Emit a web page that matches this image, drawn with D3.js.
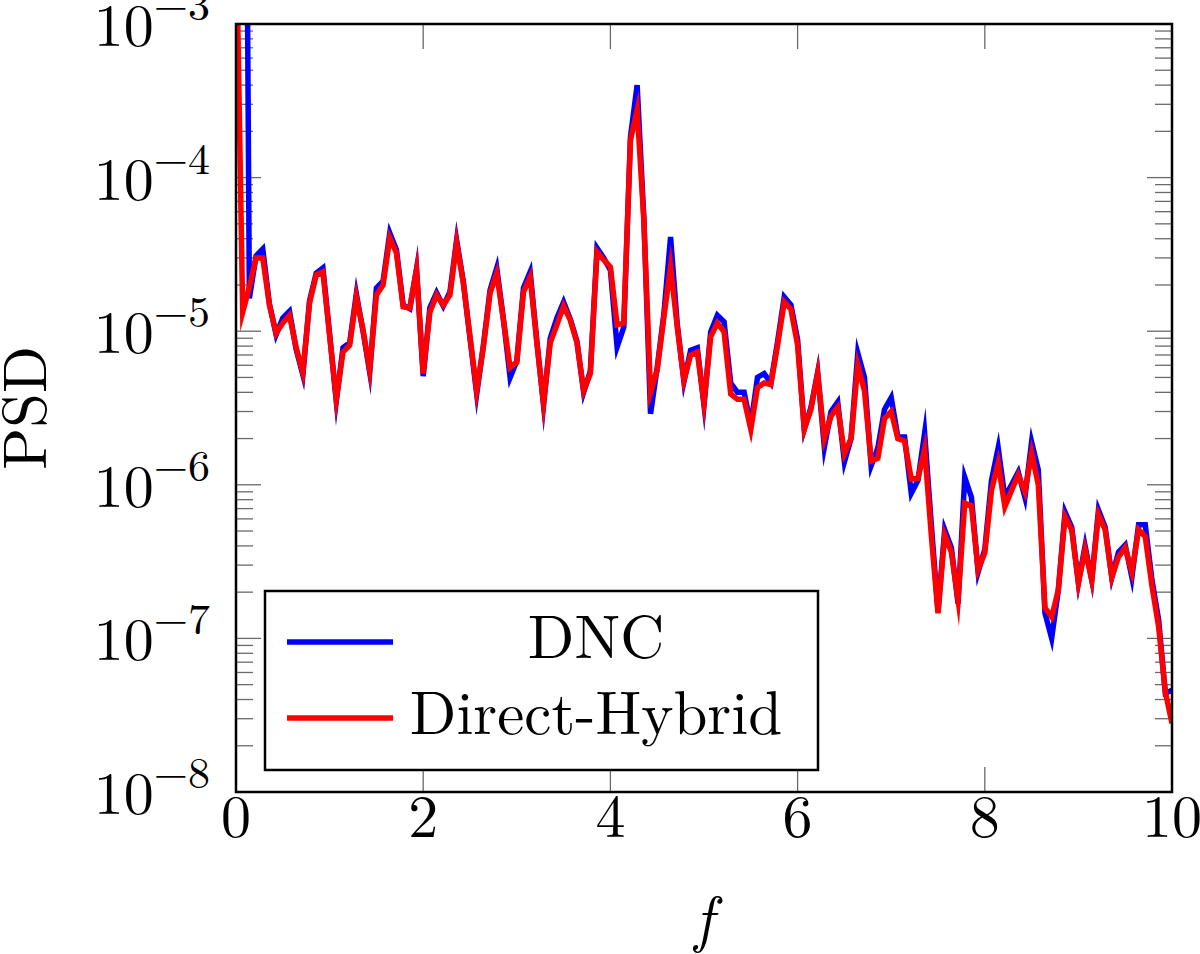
<!DOCTYPE html>
<html>
<head>
<meta charset="utf-8">
<script src="https://cdn.jsdelivr.net/npm/d3@7"></script>
<style>
  body { margin: 0; background: #fff; }
  text { font-family: "Latin Modern Roman", "CMU Serif", "Liberation Serif", serif; fill: #000; }
</style>
</head>
<body>
<div id="chart"></div>
<script>
// frequency grid step (141 samples between 0 and 10)
var freqStep = 10 / 140;

// PSD of DNC run
var dncPSD = [
  1e2, 1e2, 1.64e-5, 3.09e-5, 3.43e-5, 1.5e-5, 9.5e-6, 1.22e-5, 1.35e-5, 7.6e-6,
  5.2e-6, 1.58e-5, 2.39e-5, 2.58e-5, 9.6e-6, 3.5e-6, 7.8e-6, 8.4e-6, 1.75e-5, 1.0e-5,
  5.4e-6, 1.91e-5, 2.12e-5, 4.36e-5, 3.38e-5, 1.48e-5, 1.4e-5, 2.55e-5, 5.1e-6, 1.42e-5,
  1.78e-5, 1.46e-5, 1.8e-5, 3.92e-5, 2.1e-5, 9.0e-6, 3.9e-6, 8.1e-6, 1.85e-5, 2.58e-5,
  1.2e-5, 5.0e-6, 6.4e-6, 1.91e-5, 2.43e-5, 8.6e-6, 3.3e-6, 9.0e-6, 1.22e-5, 1.55e-5,
  1.2e-5, 8.6e-6, 4.0e-6, 5.5e-6, 3.48e-5, 3.0e-5, 2.5e-5, 7.9e-6, 1.06e-5, 1.84e-4,
  4.0e-4, 5.46e-5, 2.9e-6, 5.8e-6, 1.3e-5, 4.1e-5, 1.11e-5, 4.7e-6, 7.5e-6, 7.8e-6,
  3.3e-6, 9.9e-6, 1.27e-5, 1.15e-5, 4.6e-6, 4.0e-6, 4.0e-6, 2.45e-6, 5.0e-6, 5.3e-6,
  4.6e-6, 8.5e-6, 1.67e-5, 1.48e-5, 8.8e-6, 2.3e-6, 3.2e-6, 5.4e-6, 1.76e-6, 3.0e-6,
  3.46e-6, 1.41e-6, 2.0e-6, 7.2e-6, 5.0e-6, 1.33e-6, 1.74e-6, 3.1e-6, 3.7e-6, 2.05e-6,
  2.05e-6, 8.8e-7, 1.07e-6, 2.17e-6, 5.5e-7, 1.5e-7, 5.1e-7, 3.9e-7, 1.68e-7, 1.12e-6,
  8.3e-7, 2.7e-7, 3.8e-7, 1.07e-6, 1.74e-6, 8.3e-7, 1.0e-6, 1.21e-6, 8.3e-7, 1.9e-6,
  1.25e-6, 1.46e-7, 1.0e-7, 2.07e-7, 6.65e-7, 5.3e-7, 2.3e-7, 4.0e-7, 2.4e-7, 6.85e-7,
  5.3e-7, 2.5e-7, 3.65e-7, 4.06e-7, 2.5e-7, 5.5e-7, 5.5e-7, 2.4e-7, 1.32e-7, 4.4e-8,
  4.6e-8
];

// PSD of Direct-Hybrid run
var hybridPSD = [
  5e-3, 1.33e-5, 1.94e-5, 3.0e-5, 3.0e-5, 1.48e-5, 9.7e-6, 1.13e-5, 1.27e-5, 7.8e-6,
  5.4e-6, 1.53e-5, 2.32e-5, 2.43e-5, 9.4e-6, 3.6e-6, 7.3e-6, 8.1e-6, 1.67e-5, 1.02e-5,
  5.6e-6, 1.72e-5, 2.0e-5, 4.05e-5, 3.23e-5, 1.44e-5, 1.42e-5, 2.5e-5, 5.3e-6, 1.33e-5,
  1.72e-5, 1.48e-5, 1.72e-5, 3.75e-5, 2.06e-5, 9.2e-6, 4.1e-6, 7.9e-6, 1.77e-5, 2.39e-5,
  1.18e-5, 5.8e-6, 6.3e-6, 1.8e-5, 2.25e-5, 8.4e-6, 3.4e-6, 8.4e-6, 1.1e-5, 1.46e-5,
  1.18e-5, 8.4e-6, 4.1e-6, 5.3e-6, 3.28e-5, 2.91e-5, 2.62e-5, 1.1e-5, 1.13e-5, 1.76e-4,
  2.75e-4, 5.3e-5, 4.0e-6, 5.6e-6, 1.24e-5, 2.62e-5, 1.06e-5, 4.8e-6, 7.0e-6, 7.3e-6,
  3.4e-6, 9.2e-6, 1.13e-5, 9.9e-6, 3.9e-6, 3.6e-6, 3.6e-6, 2.3e-6, 4.3e-6, 4.6e-6,
  4.5e-6, 8.1e-6, 1.55e-5, 1.39e-5, 8.1e-6, 2.3e-6, 3.1e-6, 5.3e-6, 2.0e-6, 2.8e-6,
  3.2e-6, 1.6e-6, 2.0e-6, 6.0e-6, 4.1e-6, 1.43e-6, 1.49e-6, 2.7e-6, 3.0e-6, 2.0e-6,
  1.93e-6, 1.09e-6, 1.1e-6, 1.7e-6, 4.7e-7, 1.46e-7, 4.7e-7, 3.65e-7, 1.78e-7, 7.6e-7,
  7.3e-7, 2.8e-7, 3.6e-7, 9.2e-7, 1.39e-6, 7.2e-7, 9.2e-7, 1.16e-6, 9.0e-7, 1.61e-6,
  1.0e-6, 1.58e-7, 1.38e-7, 2.07e-7, 6.2e-7, 5.1e-7, 2.3e-7, 3.8e-7, 2.4e-7, 6.4e-7,
  5.1e-7, 2.5e-7, 3.4e-7, 3.9e-7, 2.7e-7, 5.1e-7, 4.6e-7, 2.2e-7, 1.19e-7, 4.5e-8,
  2.8e-8
];

var xTicks = [0, 2, 4, 6, 8, 10];
var yDecades = [1e-8, 1e-7, 1e-6, 1e-5, 1e-4, 1e-3];
var yTickExps = ["−8", "−7", "−6", "−5", "−4", "−3"];
var seriesNames = ["DNC", "Direct-Hybrid"];
var seriesColors = ["#0000ff", "#ff0000"];

var width = 1200, height = 954;
var plot = {left: 236, right: 1172, top: 24, bottom: 792};

var svg = d3.select("#chart")
  .append("svg")
    .attr("width", width)
    .attr("height", height);

var x = d3.scaleLinear().domain([0, 10]).range([plot.left, plot.right]);
var y = d3.scaleLog().domain([1e-8, 1e-3]).range([plot.bottom, plot.top]);

svg.append("clipPath").attr("id", "clip")
  .append("rect")
    .attr("x", plot.left).attr("y", plot.top)
    .attr("width", plot.right - plot.left).attr("height", plot.bottom - plot.top);

// ticks (inside, both sides)
var majorLen = 25, minorLen = 17;
var ticksG = svg.append("g").attr("stroke", "#6a6a6a").attr("stroke-width", 1.3);

var allY = y.ticks();
allY.forEach(function(v) {
  var isMajor = Math.abs(Math.log10(v) - Math.round(Math.log10(v))) < 1e-9;
  var len = isMajor ? majorLen : minorLen;
  ticksG.append("line").attr("x1", plot.left).attr("x2", plot.left + len)
    .attr("y1", y(v)).attr("y2", y(v));
  ticksG.append("line").attr("x1", plot.right).attr("x2", plot.right - len)
    .attr("y1", y(v)).attr("y2", y(v));
});
xTicks.forEach(function(v) {
  ticksG.append("line").attr("x1", x(v)).attr("x2", x(v))
    .attr("y1", plot.bottom).attr("y2", plot.bottom - majorLen);
  ticksG.append("line").attr("x1", x(v)).attr("x2", x(v))
    .attr("y1", plot.top).attr("y2", plot.top + majorLen);
});

// lines
var line = d3.line()
  .x(function(d, i) { return x(i * freqStep); })
  .y(function(d) { return y(d); });

var linesG = svg.append("g").attr("clip-path", "url(#clip)");
[dncPSD, hybridPSD].forEach(function(s, k) {
  linesG.append("path")
    .datum(s)
    .attr("d", line)
    .attr("fill", "none")
    .attr("stroke", seriesColors[k])
    .attr("stroke-width", 5.5)
    .attr("stroke-linejoin", "miter")
    .attr("stroke-miterlimit", 10);
});

// frame
svg.append("rect")
  .attr("x", plot.left).attr("y", plot.top)
  .attr("width", plot.right - plot.left).attr("height", plot.bottom - plot.top)
  .attr("fill", "none").attr("stroke", "#000").attr("stroke-width", 2.5);

// tick labels
var fontSize = 60;
xTicks.forEach(function(v) {
  svg.append("text")
    .attr("x", x(v)).attr("y", 837)
    .attr("text-anchor", "middle")
    .style("font-size", fontSize + "px")
    .text(v);
});
yDecades.forEach(function(v, i) {
  var t = svg.append("text")
    .attr("x", 210).attr("y", y(v) + 22)
    .attr("text-anchor", "end")
    .style("font-size", fontSize + "px");
  t.append("tspan").text("10");
  t.append("tspan").attr("dy", -26).style("font-size", "44px").text(yTickExps[i]);
});

// axis labels
svg.append("text")
  .attr("x", (plot.left + plot.right) / 2).attr("y", 940)
  .attr("text-anchor", "middle")
  .style("font-size", "62px").style("font-style", "italic")
  .text("f");
svg.append("text")
  .attr("transform", "translate(46," + ((plot.top + plot.bottom) / 2) + ") rotate(-90)")
  .attr("text-anchor", "middle")
  .style("font-size", "62px")
  .text("PSD");

// legend
var lg = svg.append("g");
lg.append("rect")
  .attr("x", 265).attr("y", 591)
  .attr("width", 553).attr("height", 179)
  .attr("fill", "#fff").attr("stroke", "#000").attr("stroke-width", 2.5);
seriesNames.forEach(function(name, k) {
  var ly = 642 + k * 76;
  lg.append("line")
    .attr("x1", 287).attr("x2", 393)
    .attr("y1", ly).attr("y2", ly)
    .attr("stroke", seriesColors[k]).attr("stroke-width", 5.5);
  lg.append("text")
    .attr("x", 596).attr("y", ly + 16)
    .attr("text-anchor", "middle")
    .style("font-size", "61px")
    .text(name);
});
</script>
</body>
</html>
